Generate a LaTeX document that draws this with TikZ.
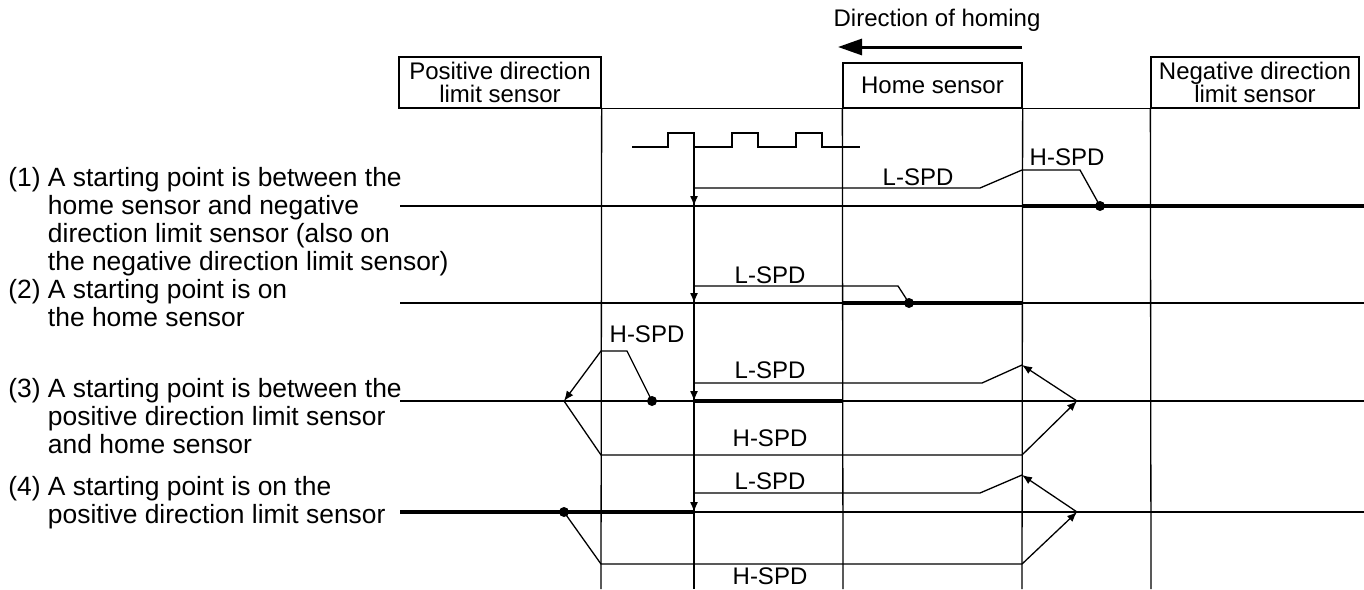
\documentclass[tikz,border=0pt]{standalone}
\usepackage{fontspec}
\setmainfont{Liberation Sans}
\usepackage{tikz}
\usetikzlibrary{arrows.meta,positioning}

\tikzset{
  wire/.style={line width=0.65pt},
  active/.style={line width=2pt},
  spd/.style={font=\fontsize{12}{12}\selectfont, inner sep=0pt},
  sensor/.style={draw, line width=0.65pt, font=\fontsize{12}{11.5}\selectfont, align=center, inner sep=0pt},
  case/.style={font=\fontsize{13.2}{14}\selectfont, align=left, inner sep=0pt, anchor=north west},
  startdot/.style={circle, fill, inner sep=0pt, minimum size=5pt},
  headtip/.style={-{Latex[length=5pt,width=4pt]}},
}

\begin{document}
\begin{tikzpicture}[x=0.5pt,y=-0.5pt]
    \clip (0,0) rectangle (1364,589);

    % header
    \node[spd] (dir) at (937,20) {Direction of homing};
    \draw[line width=1.5pt,-{Triangle[length=12pt,width=8pt]}] (1022,47) -- (838,47);

    \node[sensor,minimum width=101pt,minimum height=25.5pt] (posbox) at (500,82.5) {Positive direction\\limit sensor};
    \node[sensor,minimum width=89.5pt,minimum height=22.5pt] (homebox) at (932.5,85.5) {\raisebox{-2pt}{Home sensor}};
    \node[sensor,minimum width=104pt,minimum height=25.5pt] (negbox) at (1255,82.5) {Negative direction\\limit sensor};
    \draw[wire] (posbox.south east) -- (negbox.south west);

    % sensor edges
    \draw[wire] (posbox.south east) -- (601,589);
    \draw[wire] (homebox.south west) -- (843,589);
    \draw[wire] (homebox.south east) -- (1022,589);
    \draw[wire] (negbox.south west) -- (1151,589);

    % pulses
    \draw[wire] (632,147) -- (668,147) -- (668,133) -- (694,133) -- (694,147) -- (732,147) -- (732,133)
        -- (758,133) -- (758,147) -- (796,147) -- (796,133) -- (822,133) -- (822,147) -- (860,147);
    \draw[wire] (694,147) -- (694,589);

    % case texts
    \node[case] (c1) at (8,167) {(1) A starting point is between the\\\phantom{(1)\ }home sensor and negative\\\phantom{(1)\ }direction limit sensor (also on\\\phantom{(1)\ }the negative direction limit sensor)};
    \node[case] (c2) at (8,279) {(2) A starting point is on\\\phantom{(2)\ }the home sensor};
    \node[case] (c3) at (8,378) {(3) A starting point is between the\\\phantom{(3)\ }positive direction limit sensor\\\phantom{(3)\ }and home sensor};
    \node[case] (c4) at (8,476) {(4) A starting point is on the\\\phantom{(4)\ }positive direction limit sensor};

    % (1)
    \draw[wire] (400,206) -- (1364,206);
    \draw[active] (1022,206) -- (1364,206);
    \node[startdot] (s1) at (1100,206) {};
    \draw[wire] (s1.center) -- (1080,170) -- (1022,170) -- (980,188) -- (694,188);
    \draw[wire,headtip] (694,193) -- (694,206);
    \node[spd] (h1) at (1067,157) {H-SPD};
    \node[spd] (l1) at (918,177) {L-SPD};

    % (2)
    \draw[wire] (400,303) -- (1364,303);
    \draw[active] (843,303) -- (1022,303);
    \node[startdot] (s2) at (909,303) {};
    \draw[wire] (s2.center) -- (898,286) -- (694,286);
    \draw[wire,headtip] (694,290) -- (694,303);
    \node[spd] (l2) at (770,275) {L-SPD};

    % (3)
    \draw[wire] (400,401) -- (1364,401);
    \draw[active] (694,401) -- (843,401);
    \node[startdot] (s3) at (652,401) {};
    \draw[wire,headtip] (s3.center) -- (627,351) -- (601,351) -- (564,401);
    \draw[wire,headtip] (564,401) -- (601,455) -- (1022,455) -- (1077,401);
    \draw[wire,headtip] (1077,401) -- (1022,365);
    \draw[wire] (1022,365) -- (982,383) -- (694,383);
    \draw[wire,headtip] (694,388) -- (694,401);
    \node[spd] (h3) at (647,334) {H-SPD};
    \node[spd] (l3) at (770,370) {L-SPD};
    \node[spd] (h3b) at (770,438) {H-SPD};

    % (4)
    \draw[wire] (694,512) -- (1364,512);
    \draw[active] (400,512) -- (694,512);
    \node[startdot] (s4) at (564,512) {};
    \draw[wire,headtip] (s4.center) -- (601,564) -- (1022,564) -- (1077,512);
    \draw[wire,headtip] (1077,512) -- (1022,475);
    \draw[wire] (1022,475) -- (980,493) -- (694,493);
    \draw[wire,headtip] (694,499) -- (694,512);
    \node[spd] (l4) at (770,481) {L-SPD};
    \node[spd] (h4) at (770,576) {H-SPD};
\end{tikzpicture}
\end{document}
